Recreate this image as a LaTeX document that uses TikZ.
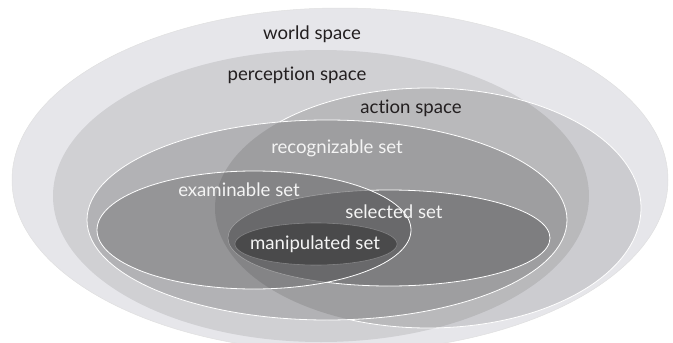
\documentclass[tikz,border=0pt]{standalone}
\usepackage{fontspec}
\setmainfont{Lato}[Ligatures={NoCommon,NoContextual}]
\definecolor{worldfill}{HTML}{E6E6EA}
\definecolor{labeldark}{HTML}{231F20}
\definecolor{labellight}{HTML}{F4F4F4}
% outlines of the nested regions (centre, radii in pt)
\newcommand{\shWorld}{(340,180) ellipse [x radius=328pt, y radius=172pt]}
\newcommand{\shPercep}{(321,196) ellipse [x radius=268pt, y radius=146pt]}
\newcommand{\shAction}{(428,208) ellipse [x radius=213pt, y radius=120pt]}
\newcommand{\shRecog}{(327,220) ellipse [x radius=240pt, y radius=100pt]}
\newcommand{\shExam}{(254,230) ellipse [x radius=157pt, y radius=59pt]}
\newcommand{\shSelect}{(389,238) ellipse [x radius=161pt, y radius=48pt]}
\newcommand{\shManip}{(316,244) ellipse [x radius=81pt, y radius=21pt]}
\begin{document}
\begin{tikzpicture}[x=1pt,y=-1pt,
  shade layer/.style={fill=black, fill opacity=#1},
  rim/.style={draw=white, line width=0.8pt},
  darklabel/.style={text=labeldark, inner sep=0pt, font=\fontsize{18.6}{20}\selectfont},
  lightlabel/.style={text=labellight, inner sep=0pt, font=\fontsize{18.6}{20}\selectfont}]
\useasboundingbox (0,0) rectangle (673,343);
\clip (0,0) rectangle (673,343);

% fills, each one darkening what lies beneath
\fill[worldfill] \shWorld;
\draw[black!12, line width=0.5pt] \shWorld;
\fill[shade layer=0.095] \shPercep;
\fill[shade layer=0.11] \shAction;
\fill[shade layer=0.14] \shRecog;
\fill[shade layer=0.2] \shSelect;
\fill[shade layer=0.16] \shExam;
\fill[shade layer=0.29] \shManip;

% white rims
\begin{scope}[even odd rule]
  \clip (0,0) rectangle (673,343) \shRecog;
  \draw[rim] \shAction;
\end{scope}
\draw[rim] \shRecog;
\begin{scope}[even odd rule]
  \clip (0,0) rectangle (673,343) \shExam;
  \draw[rim] \shSelect;
\end{scope}
\begin{scope}
  \clip \shExam;
  \draw[rim, draw opacity=0.3, line width=0.6pt] \shSelect;
\end{scope}
\draw[rim] \shExam;
\draw[white, draw opacity=0.25, line width=0.6pt] \shManip;

% labels
\node[darklabel] (world) at (312,34) {world space};
\node[darklabel] (percep) at (297,75) {perception space};
\node[darklabel] (action) at (411,108) {action space};
\node[lightlabel] (recog) at (337,148) {recognizable set};
\node[lightlabel] (exam) at (239,190) {examinable set};
\node[lightlabel] (select) at (394,212) {selected set};
\node[lightlabel] (manip) at (315,244) {manipulated set};
\end{tikzpicture}
\end{document}
